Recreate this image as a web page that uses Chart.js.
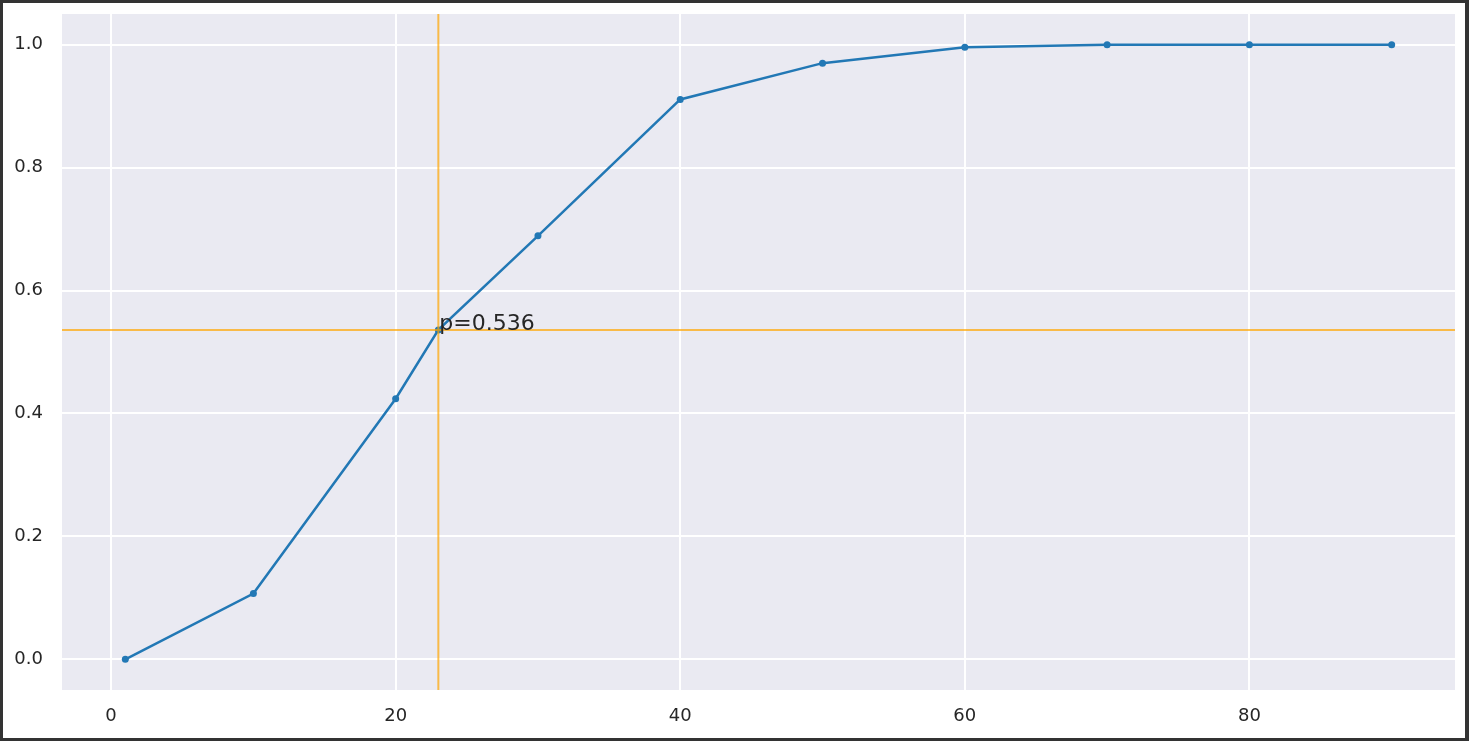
<!DOCTYPE html>
<html>
<head>
<meta charset="utf-8">
<script src="https://cdn.jsdelivr.net/npm/chart.js@4/dist/chart.umd.min.js"></script>
<style>
  html, body { margin: 0; padding: 0; background: #fff; overflow: hidden; }
  #wrap { position: absolute; left: 0; top: 0; width: 1469px; height: 741px; }
</style>
</head>
<body>
<div id="wrap"><canvas id="chart" width="1469" height="741"></canvas></div>
<script>
// group sizes and probability of a shared birthday
const X_VALUES = [1, 10, 20, 23, 30, 40, 50, 60, 70, 80, 90];
const P_VALUES = [0, 0.107, 0.424, 0.536, 0.689, 0.911, 0.970, 0.996, 1.0, 1.0, 1.0];
const X_TICKS = [0, 20, 40, 60, 80];
const Y_TICKS = [0, 0.2, 0.4, 0.6, 0.8, 1.0];
const MARK_X = 23;
const MARK_P = 0.536;
const MARK_LABEL = 'p=0.536';

const TICK_COLOR = '#262626';
const LINE_COLOR = '#2278b5';
const ORANGE = 'rgba(255,165,0,0.7)';

// dark frame + white page + grey axes background
const framePlugin = {
  id: 'frame',
  beforeDraw(chart) {
    const { ctx, chartArea: a } = chart;
    ctx.save();
    ctx.fillStyle = '#333333';
    ctx.fillRect(0, 0, chart.width, chart.height);
    ctx.fillStyle = '#ffffff';
    ctx.fillRect(3, 3, chart.width - 7, chart.height - 6);
    ctx.fillStyle = '#eaeaf2';
    ctx.fillRect(a.left, a.top, a.right - a.left, a.bottom - a.top);
    ctx.restore();
  }
};

// orange cross lines and the text at the marked point
const markPlugin = {
  id: 'mark',
  afterDatasetsDraw(chart) {
    const { ctx, chartArea: a, scales } = chart;
    const px = scales.x.getPixelForValue(MARK_X);
    const py = scales.y.getPixelForValue(MARK_P);
    ctx.save();
    ctx.strokeStyle = ORANGE;
    ctx.lineWidth = 2;
    ctx.beginPath();
    ctx.moveTo(px, a.top); ctx.lineTo(px, a.bottom);
    ctx.moveTo(a.left, py); ctx.lineTo(a.right, py);
    ctx.stroke();
    ctx.fillStyle = '#262626';
    ctx.font = '22px "DejaVu Sans"';
    ctx.textAlign = 'left';
    ctx.textBaseline = 'alphabetic';
    ctx.fillText(MARK_LABEL, px + 1, py);
    ctx.restore();
  }
};

new Chart(document.getElementById('chart'), {
  type: 'line',
  data: {
    datasets: [{
      data: X_VALUES.map((x, i) => ({ x, y: P_VALUES[i] })),
      borderColor: LINE_COLOR,
      backgroundColor: LINE_COLOR,
      borderWidth: 2.5,
      pointRadius: 3.5,
      pointBorderWidth: 0,
      pointBackgroundColor: LINE_COLOR,
      tension: 0,
    }],
  },
  options: {
    responsive: false,
    animation: false,
    layout: { padding: { left: 0, top: 14, right: 14, bottom: 0 } },
    plugins: { legend: { display: false }, tooltip: { enabled: false } },
    scales: {
      x: {
        type: 'linear',
        min: -3.45,
        max: 94.45,
        afterBuildTicks: s => { s.ticks = X_TICKS.map(v => ({ value: v })); },
        afterFit: s => { s.height = 51; s.paddingLeft = 0; s.paddingRight = 0; },
        grid: { color: '#ffffff', lineWidth: 2, drawTicks: false },
        border: { display: false },
        ticks: {
          color: TICK_COLOR,
          font: { family: 'DejaVu Sans', size: 18 },
          padding: 16,
          maxRotation: 0,
          callback: v => String(v),
        },
      },
      y: {
        type: 'linear',
        min: -0.05,
        max: 1.05,
        afterBuildTicks: s => { s.ticks = Y_TICKS.map(v => ({ value: v })); },
        afterFit: s => { s.width = 62; s.paddingTop = 0; s.paddingBottom = 0; },
        grid: { color: '#ffffff', lineWidth: 2, drawTicks: false },
        border: { display: false },
        ticks: {
          color: TICK_COLOR,
          font: { family: 'DejaVu Sans', size: 18 },
          padding: 19,
          callback: v => v.toFixed(1),
        },
      },
    },
  },
  plugins: [framePlugin, markPlugin],
});
</script>
</body>
</html>
